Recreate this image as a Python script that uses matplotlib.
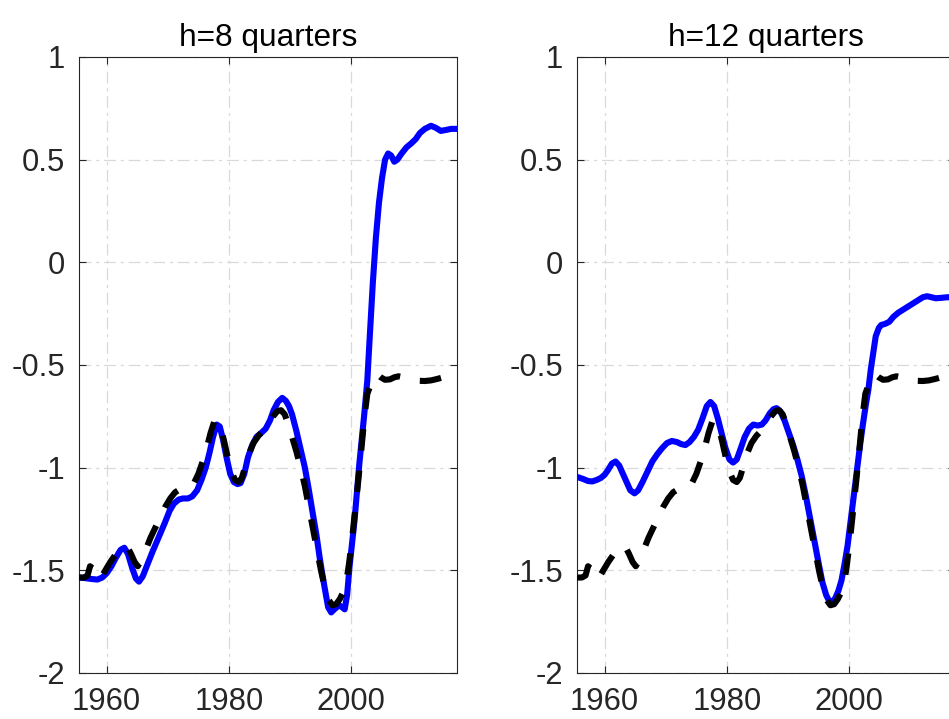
import matplotlib
matplotlib.use("Agg")
import matplotlib.pyplot as plt

plt.rcParams['font.family'] = ['Liberation Sans', 'DejaVu Sans']
plt.rcParams['lines.scale_dashes'] = False

# common benchmark series (dashed, drawn in both panels)
bench_years = [1955.5, 1956.3, 1956.9, 1957.3, 1957.7, 1958.2, 1958.8, 1959.4, 1960.0, 1960.6,
               1961.3, 1962.0, 1962.7, 1963.4, 1964.0, 1964.6, 1965.1, 1965.7, 1966.4, 1967.2,
               1968.0, 1968.8, 1969.6, 1970.4, 1971.2, 1972.0, 1972.8, 1973.5, 1974.2, 1975.0,
               1975.7, 1976.4, 1977.0, 1977.6, 1978.1, 1978.6, 1979.2, 1979.8, 1980.4, 1981.0,
               1981.6, 1982.1, 1982.7, 1983.3, 1984.0, 1984.8, 1985.6, 1986.4, 1987.2, 1987.9,
               1988.5, 1989.1, 1989.7, 1990.3, 1991.0, 1991.7, 1992.4, 1993.1, 1993.8, 1994.5,
               1995.1, 1995.7, 1996.3, 1996.9, 1997.5, 1998.1, 1998.6, 1999.1, 1999.6, 2000.1,
               2000.6, 2001.1, 2001.6, 2002.1, 2002.6, 2003.1, 2003.6, 2004.2, 2004.8, 2005.5,
               2006.3, 2007.0, 2007.7, 2008.5, 2009.3, 2010.2, 2011.0, 2012.0, 2013.0, 2014.0,
               2015.0, 2016.0, 2017.25]
bench_vals = [-1.535, -1.535, -1.525, -1.48, -1.49, -1.535, -1.54, -1.52, -1.49, -1.46,
              -1.43, -1.40, -1.385, -1.385, -1.42, -1.46, -1.48, -1.45, -1.40, -1.34,
              -1.29, -1.24, -1.19, -1.15, -1.12, -1.105, -1.10, -1.10, -1.08, -1.03,
              -0.97, -0.90, -0.83, -0.775, -0.77, -0.80, -0.87, -0.95, -1.02, -1.06,
              -1.07, -1.05, -0.99, -0.93, -0.88, -0.845, -0.82, -0.79, -0.75, -0.725,
              -0.72, -0.74, -0.79, -0.85, -0.92, -1.0, -1.09, -1.2, -1.31, -1.42,
              -1.51, -1.59, -1.645, -1.67, -1.665, -1.64, -1.61, -1.57, -1.47, -1.35,
              -1.21, -1.07, -0.92, -0.76, -0.64, -0.6, -0.56, -0.545, -0.56, -0.572,
              -0.57, -0.56, -0.555, -0.56, -0.565, -0.572, -0.577, -0.578, -0.575, -0.568,
              -0.56, -0.555, -0.55]

# h = 8 quarters
h8_years = [1955.5, 1956.5, 1957.5, 1958.5, 1959.3, 1960.0, 1960.8, 1961.5, 1962.3, 1962.9,
            1963.5, 1964.2, 1964.8, 1965.3, 1965.9, 1966.7, 1967.5, 1968.5, 1969.5, 1970.3,
            1971.0, 1971.8, 1972.5, 1973.3, 1974.0, 1974.8, 1975.5, 1976.2, 1976.8, 1977.4,
            1978.0, 1978.5, 1979.0, 1979.6, 1980.2, 1980.8, 1981.4, 1981.9, 1982.5, 1983.1,
            1983.8, 1984.5, 1985.3, 1986.0, 1986.7, 1987.3, 1988.0, 1988.7, 1989.3, 1989.8,
            1990.3, 1991.0, 1991.7, 1992.4, 1993.0, 1993.7, 1994.3, 1994.8, 1995.2, 1995.6,
            1996.2, 1996.7, 1997.2, 1998.0, 1998.5, 1998.9, 1999.3, 1999.7, 2000.5, 2001.3,
            2002.1, 2002.6, 2003.0, 2003.5, 2004.0, 2004.5, 2005.0, 2005.5, 2006.0, 2006.5,
            2007.0, 2007.5, 2008.2, 2009.0, 2009.8, 2010.5, 2011.2, 2012.0, 2013.0, 2013.8,
            2014.6, 2015.5, 2016.3, 2017.25]
h8_vals = [-1.535, -1.538, -1.542, -1.545, -1.535, -1.515, -1.48, -1.44, -1.40, -1.39,
           -1.42, -1.49, -1.54, -1.555, -1.53, -1.47, -1.41, -1.34, -1.27, -1.21,
           -1.175, -1.155, -1.15, -1.15, -1.14, -1.11, -1.06, -1.0, -0.93, -0.85,
           -0.79, -0.80, -0.86, -0.95, -1.03, -1.07, -1.08, -1.075, -1.03, -0.95,
           -0.89, -0.85, -0.83, -0.81, -0.77, -0.72, -0.68, -0.66, -0.675, -0.70,
           -0.74, -0.82, -0.91, -1.0, -1.10, -1.225, -1.33, -1.435, -1.51, -1.58,
           -1.68, -1.705, -1.69, -1.67, -1.68, -1.69, -1.62, -1.48, -1.26, -0.98,
           -0.74, -0.575, -0.36, -0.10, 0.12, 0.29, 0.41, 0.50, 0.53, 0.52,
           0.49, 0.50, 0.53, 0.56, 0.58, 0.60, 0.63, 0.65, 0.665, 0.655,
           0.64, 0.645, 0.65, 0.65]

# h = 12 quarters
h12_years = [1955.5, 1956.5, 1957.3, 1958.0, 1958.7, 1959.4, 1960.0, 1960.6, 1961.2, 1961.8,
             1962.4, 1963.0, 1963.6, 1964.2, 1964.9, 1965.5, 1966.2, 1967.0, 1967.8, 1968.6,
             1969.4, 1970.2, 1971.0, 1971.8, 1972.5, 1973.2, 1973.9, 1974.6, 1975.3, 1976.0,
             1976.7, 1977.3, 1977.9, 1978.5, 1979.1, 1979.7, 1980.4, 1981.0, 1981.6, 1982.2,
             1982.9, 1983.6, 1984.3, 1985.0, 1985.7, 1986.3, 1987.0, 1987.6, 1988.1, 1988.7,
             1989.4, 1990.1, 1990.8, 1991.5, 1992.2, 1992.9, 1993.6, 1994.3, 1995.0, 1995.6,
             1996.2, 1996.7, 1997.2, 1997.7, 1998.2, 1998.7, 1999.2, 1999.7, 2000.2, 2000.7,
             2001.2, 2001.7, 2002.2, 2002.7, 2003.1, 2003.5, 2003.9, 2004.3, 2004.8, 2005.2,
             2005.8, 2006.5, 2007.2, 2008.0, 2008.8, 2009.6, 2010.4, 2011.2, 2012.0, 2012.7,
             2013.4, 2014.1, 2015.0, 2016.0, 2017.25]
h12_vals = [-1.045, -1.055, -1.065, -1.067, -1.06, -1.05, -1.035, -1.01, -0.98, -0.97,
            -0.99, -1.03, -1.07, -1.11, -1.125, -1.11, -1.07, -1.02, -0.97, -0.935,
            -0.905, -0.88, -0.87, -0.875, -0.885, -0.89, -0.875, -0.85, -0.815, -0.76,
            -0.70, -0.68, -0.70, -0.76, -0.83, -0.90, -0.96, -0.975, -0.96, -0.91,
            -0.85, -0.81, -0.79, -0.795, -0.79, -0.77, -0.735, -0.715, -0.71, -0.725,
            -0.77, -0.83, -0.89, -0.96, -1.04, -1.14, -1.25, -1.36, -1.47, -1.56,
            -1.62, -1.65, -1.655, -1.635, -1.6, -1.55, -1.47, -1.38, -1.26, -1.14,
            -1.02, -0.90, -0.79, -0.69, -0.62, -0.52, -0.44, -0.36, -0.32, -0.305,
            -0.30, -0.29, -0.265, -0.245, -0.23, -0.215, -0.2, -0.185, -0.17, -0.165,
            -0.17, -0.175, -0.173, -0.17, -0.17]

titles = ['h=8 quarters', 'h=12 quarters']
xticks = [1960, 1980, 2000]
yticks = [-2, -1.5, -1, -0.5, 0, 0.5, 1]
ytick_labels = ['-2', '-1.5', '-1', '-0.5', '0', '0.5', '1']

W, H = 949, 719
fig = plt.figure(figsize=(W / 100, H / 100), dpi=100)
ax_w, ax_h = 378, 616
bottom = (H - 673) / H
axes = [fig.add_axes([79 / W, bottom, ax_w / W, ax_h / H]),
        fig.add_axes([577 / W, bottom, ax_w / W, ax_h / H])]

txt = '#262626'
for ax, title, (yrs, vals) in zip(axes, titles, [(h8_years, h8_vals), (h12_years, h12_vals)]):
    ax.plot(yrs, vals, color='#0000ff', lw=4.4, solid_capstyle='round', zorder=3)
    ax.plot(bench_years, bench_vals, color='k', lw=4.4, dashes=(15.5, 14.5),
            dash_capstyle='butt', zorder=4)
    ax.set_xlim(1955.5, 2017.25)
    ax.set_ylim(-2, 1)
    ax.set_xticks(xticks)
    ax.set_yticks(yticks)
    ax.set_yticklabels(ytick_labels)
    ax.grid(True, color='#d9d9d9', lw=0.9, dashes=(8.5, 3.5, 2.2, 3.5))
    ax.set_axisbelow(True)
    ax.tick_params(direction='in', length=5, width=0.8, colors=txt, labelsize=22.3,
                   top=True, right=True, pad=10)
    for sp in ax.spines.values():
        sp.set_color(txt)
        sp.set_linewidth(0.8)
    ax.set_title(title, fontsize=22.8, color='k', pad=8)

fig.savefig('out.png', dpi=100)
